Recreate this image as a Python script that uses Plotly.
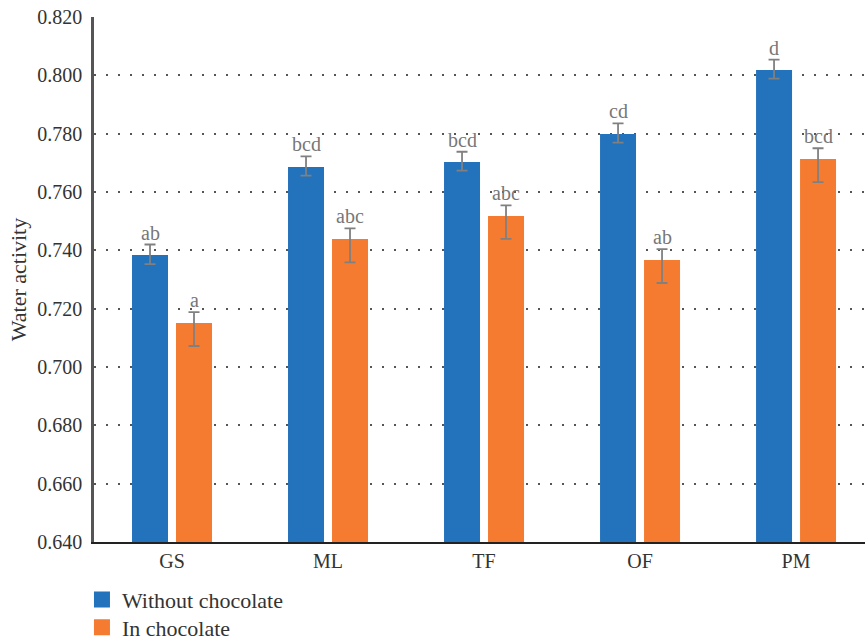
import plotly.graph_objects as go

categories = ["GS", "ML", "TF", "OF", "PM"]

without_choc = [0.7384, 0.7686, 0.7703, 0.7799, 0.8018]
without_err_plus = [0.0036, 0.0036, 0.0035, 0.0036, 0.0036]
without_err_minus = [0.0031, 0.0030, 0.0030, 0.0030, 0.0029]
without_letters = ["ab", "bcd", "bcd", "cd", "d"]

in_choc = [0.7151, 0.7439, 0.7518, 0.7367, 0.7713]
in_err_plus = [0.0037, 0.0036, 0.0036, 0.0037, 0.0037]
in_err_minus = [0.0079, 0.0080, 0.0079, 0.0079, 0.0079]
in_letters = ["a", "abc", "abc", "ab", "bcd"]

y_ticks = [0.640, 0.660, 0.680, 0.700, 0.720, 0.740, 0.760, 0.780, 0.800, 0.820]

BLUE = "#2372bc"
ORANGE = "#f47b2f"
ERR = "#808080"
FONT = "Liberation Serif"
TEXT = "#333333"

fig = go.Figure()
fig.add_trace(go.Bar(
    x=categories, y=without_choc, name="Without chocolate", showlegend=False,
    marker=dict(color=BLUE, line=dict(width=0)),
    error_y=dict(type="data", symmetric=False, array=without_err_plus,
                 arrayminus=without_err_minus, color=ERR, thickness=1.8, width=5.5),
))
fig.add_trace(go.Bar(
    x=categories, y=in_choc, name="In chocolate", showlegend=False,
    marker=dict(color=ORANGE, line=dict(width=0)),
    error_y=dict(type="data", symmetric=False, array=in_err_plus,
                 arrayminus=in_err_minus, color=ERR, thickness=1.8, width=5.5),
))

# legend entries with larger square swatches, one legend box per entry
for name, color, leg in (("Without chocolate", BLUE, "legend"), ("In chocolate", ORANGE, "legend2")):
    fig.add_trace(go.Scatter(
        x=[None], y=[None], mode="markers", name=name, legend=leg,
        marker=dict(symbol="square", size=16, color=color, line=dict(width=0)),
    ))

# significance letters above each error bar
for i, c in enumerate(categories):
    for vals, ep, letters, shift in ((without_choc, without_err_plus, without_letters, -22),
                                     (in_choc, in_err_plus, in_letters, 22)):
        fig.add_annotation(
            x=c, y=vals[i] + ep[i], text=letters[i], showarrow=False,
            xshift=shift, yanchor="bottom", yshift=-1,
            font=dict(family=FONT, size=20, color="#777777"),
        )

legend_style = dict(xanchor="left", yanchor="top", orientation="v",
                    font=dict(family=FONT, size=22, color=TEXT),
                    itemwidth=30, bgcolor="rgba(0,0,0,0)")

fig.update_layout(
    width=865, height=640,
    margin=dict(l=94, r=0, t=17, b=98, autoexpand=False),
    paper_bgcolor="white", plot_bgcolor="white",
    barmode="group", bargap=0.436, bargroupgap=0.182,
    font=dict(family=FONT, size=20, color=TEXT),
    showlegend=True,
    legend=dict(x=-0.0156, y=-0.07, **legend_style),
    legend2=dict(x=-0.0156, y=-0.1229, **legend_style),
)
fig.update_xaxes(
    range=[-0.5, 4.442], showline=True, linecolor="#222222", linewidth=2,
    ticks="", showgrid=False, tickfont=dict(family=FONT, size=20, color=TEXT),
)
fig.update_yaxes(
    range=[0.640, 0.820], tickvals=y_ticks, tickformat=".3f",
    showline=True, linecolor="#555555", linewidth=2.5, ticks="",
    showgrid=True, gridcolor="#555555", griddash="2px,10px", gridwidth=1.5,
    zeroline=False, ticklabelstandoff=5,
    title=dict(text="Water activity", font=dict(family=FONT, size=22, color=TEXT), standoff=5),
    tickfont=dict(family=FONT, size=20, color=TEXT),
)

fig.write_html("out.html")
